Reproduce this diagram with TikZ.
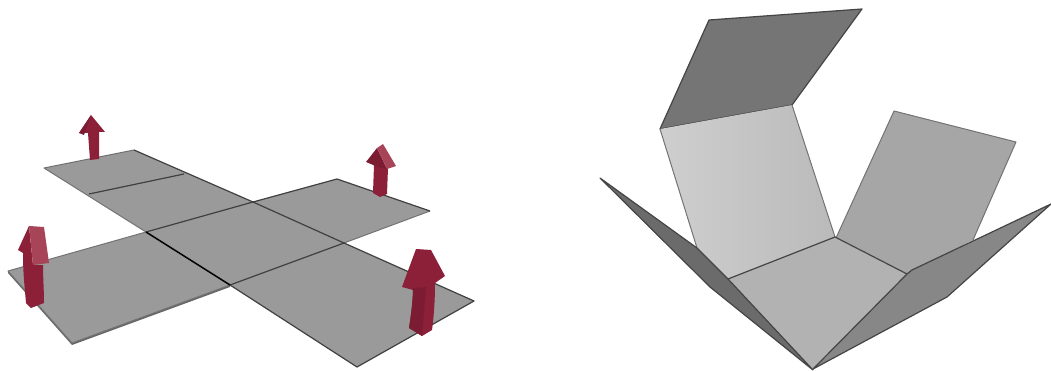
\documentclass[tikz,border=0pt]{standalone}
\usepackage{xcolor}
\definecolor{platecol}{RGB}{154,154,154}
\definecolor{arrowcol}{RGB}{139,32,56}
\definecolor{arrowdk}{RGB}{124,28,50}
\definecolor{arrowlt}{RGB}{168,68,88}
\definecolor{edgecol}{RGB}{70,68,68}
\tikzset{
  seam/.style={draw=black!75, line width=1.2pt, line join=round},
  thinedge/.style={draw=black!55, line width=1pt, line join=round},
  flapedge/.style={draw=edgecol, line width=1.2pt, line join=round},
}

\begin{document}
\begin{tikzpicture}[x=1pt, y=-1pt]
    \useasboundingbox (0,0) rectangle (1051,371);

    % Flat sheet: thickness under the front edges
    \fill[black!60] (8,271) -- (8,273) -- (72,345) -- (230,287) -- (230,285) -- (72,342) -- cycle;
    % Flat sheet: panels
    \fill[platecol] (44,168) -- (134,150) -- (253,202) -- (337,179) -- (430,211) -- (344,243)
      -- (474,301) -- (357,367) -- (230,285) -- (72,343) -- (8,271) -- (146,232) -- cycle;

    % Flat sheet: outer edges
    \draw[thinedge] (146,232) -- (8,271) -- (72,343) -- (230,285);
    \draw[thinedge] (146,232) -- (44,168) -- (134,150);
    \draw[thinedge] (344,243) -- (430,211);
    \draw[seam] (134,150) -- (253,202) -- (337,179) -- (430,211);
    \draw[seam] (230,285) -- (357,367) -- (474,301) -- (344,243);

    % Flat sheet: fold lines
    \draw[seam] (89,194) -- (184,174);
    \draw[seam] (146,232) -- (253,202);
    \draw[seam] (253,202) -- (344,243);
    \draw[seam] (230,285) -- (344,243);
    \draw[draw=black, line width=1.5pt] (146,232) -- (230,285);

    % Arrow, back left
    \fill[arrowcol] (88,133) -- (79,133) -- (91,115) -- (105,132) -- (99,132) -- (99,159) -- (90,160) -- cycle;
    \fill[arrowdk] (91,115) -- (79,133) -- (84,135) -- cycle;

    % Arrow, front left
    \fill[arrowcol] (29,226) -- (18,250) -- (23,253) .. controls (23,275) and (25,290) .. (26,303) -- (31,308) -- (44,303)
      .. controls (44,290) and (43,278) .. (43,265) -- (33,265) -- cycle;
    \fill[arrowlt] (29,226) -- (44,227) -- (49,263) -- (33,265) -- cycle;

    % Arrow, back right
    \fill[arrowcol] (374,165) -- (373,193) -- (380,197) -- (387,194) -- (388,168) -- cycle;
    \fill[arrowdk] (377,148) -- (366,162) -- (378,167) -- (387,169) -- cycle;
    \fill[arrowlt] (383,144) -- (396,166) -- (387,169) -- (377,148) -- cycle;

    % Arrow, front right
    \fill[arrowcol] (416,249) -- (431,250) -- (445,276) -- (435,283) .. controls (435,300) and (434,315) .. (432,330)
      -- (422,336) -- (409,328) .. controls (411,315) and (413,300) .. (413,290) -- (402,287) -- cycle;
    \fill[arrowdk] (413,288) .. controls (413,300) and (411,315) .. (409,328) -- (422,336) -- (426,287) -- cycle;

    % Folded box: top flap
    \fill[black!54] (709,20) -- (862,9) -- (792,105) -- (660,129) -- cycle;
    \draw[flapedge] (660,129) -- (709,20) -- (862,9) -- (792,105) -- cycle;

    % Folded box: back left panel
    \shade[left color=black!19, right color=black!27] (660,129) -- (792,105) -- (835,237) -- (728,279) -- (697,248) -- cycle;
    \draw[thinedge] (697,248) -- (660,129);
    \draw[thinedge] (792,105) -- (835,237);

    % Folded box: back right panel
    \fill[black!35] (836,238) -- (894,111) -- (1016,142) -- (973,240) -- (907,274) -- cycle;
    \draw[thinedge] (836,238) -- (894,111) -- (1016,142) -- (973,240);

    % Folded box: bottom panel
    \fill[black!30] (835,237) -- (728,279) -- (813,370) -- (907,274) -- cycle;
    \draw[flapedge] (728,279) -- (835,237) -- (907,274);

    % Folded box: left flap
    \fill[black!58] (600,178) -- (697,248) -- (728,279) -- (813,370) -- (710,287) -- cycle;
    \draw[flapedge] (600,178) -- (697,248) -- (728,279) -- (813,370) -- (710,287) -- cycle;

    % Folded box: right flap
    \fill[black!47] (813,369) -- (907,274) -- (912,270) -- (1051,204) -- (947,297) -- cycle;
    \draw[flapedge] (813,369) -- (907,274) -- (912,270) -- (1051,204) -- (947,297) -- cycle;
\end{tikzpicture}
\end{document}
